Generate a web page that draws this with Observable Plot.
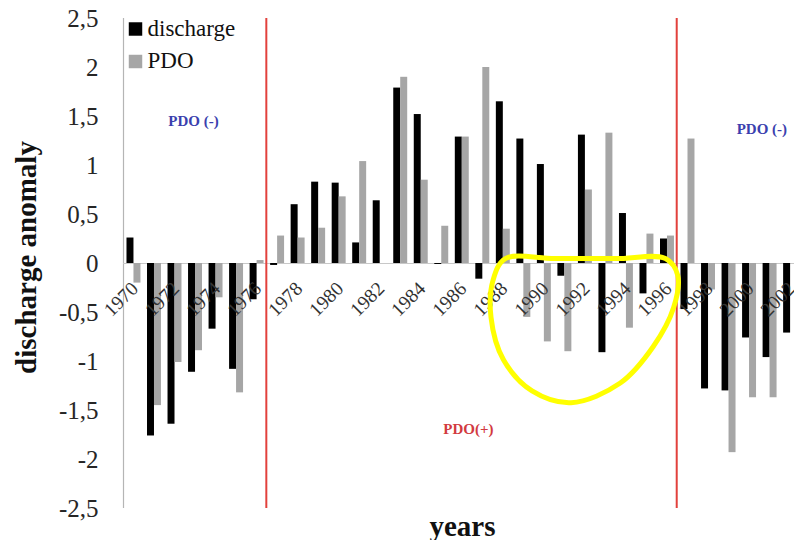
<!DOCTYPE html>
<html>
<head>
<meta charset="utf-8">
<script src="https://cdn.jsdelivr.net/npm/d3@7"></script>
<script src="https://cdn.jsdelivr.net/npm/@observablehq/plot@0.6"></script>
<style>
  html, body { margin: 0; padding: 0; background: #fff; overflow: hidden; }
  #chart svg { display: block; }
  #chart svg text { font-family: "Liberation Serif", "Times New Roman", serif; }
</style>
</head>
<body>
<div id="chart"></div>
<script>
// ---- data ----
const years = d3.range(1970, 2003);
const discharge = [0.26, -1.76, -1.64, -1.11, -0.67, -1.08, -0.37, -0.02, 0.60, 0.83,
  0.82, 0.21, 0.64, 1.79, 1.52, -0.01, 1.29, -0.16, 1.65, 1.27,
  1.01, -0.13, 1.31, -0.91, 0.51, -0.31, 0.25, -0.47, -1.28, -1.30,
  -0.76, -0.96, -0.71];
const pdo = [-0.20, -1.45, -1.01, -0.89, -0.35, -1.32, 0.03, 0.28, 0.26, 0.36,
  0.68, 1.04, 0.00, 1.90, 0.85, 0.38, 1.29, 2.00, 0.35, -0.55,
  -0.80, -0.90, 0.75, 1.33, -0.66, 0.30, 0.28, 1.27, -0.27, -1.93,
  -1.37, -1.37, null];
const labelYears = d3.range(1970, 2003, 2);
const yTicks = [-2.5, -2, -1.5, -1, -0.5, 0, 0.5, 1, 1.5, 2, 2.5];
const xDomain = [1969.49, 2002.19];
const regimeShifts = [1976.45, 1996.45];
const phaseLabels = [
  {year: 1972.9, value: 1.45, text: "PDO (-)", color: "#3b3fae"},
  {year: 2000.6, value: 1.37, text: "PDO (-)", color: "#3b3fae"},
  {year: 1986.3, value: -1.69, text: "PDO(+)", color: "#d23a3f"}
];
const highlight = [
  {year: 1988.1, value: 0.05}, {year: 1990.5, value: 0.05}, {year: 1993.5, value: 0.05},
  {year: 1995.9, value: 0.05}, {year: 1996.5, value: -0.12}, {year: 1996.3, value: -0.45},
  {year: 1995.3, value: -0.85}, {year: 1993.7, value: -1.22}, {year: 1991.3, value: -1.42},
  {year: 1989.4, value: -1.30}, {year: 1988.0, value: -0.98}, {year: 1987.4, value: -0.55},
  {year: 1987.5, value: -0.17}
];

const rows = years.map((y, i) => ({year: y, discharge: discharge[i], pdo: pdo[i]}));
const BW = 0.34;
const font = "'Liberation Serif', 'Times New Roman', serif";

const chart = Plot.plot({
  width: 794,
  height: 540,
  marginLeft: 123,
  marginRight: 0,
  marginTop: 18,
  marginBottom: 32,
  style: `font-family: ${font}; background: #fff; color: #222;`,
  x: {domain: xDomain, axis: null},
  y: {domain: [-2.5, 2.5], axis: null},
  marks: [
    Plot.ruleX([xDomain[0]], {stroke: "#b5b5b5", strokeWidth: 1.2}),
    Plot.ruleY([0], {stroke: "#c8c8c8", strokeWidth: 1}),
    Plot.rectY(rows.filter(d => d.discharge != null), {x1: d => d.year - BW, x2: d => d.year, y: "discharge", fill: "#000", clip: true}),
    Plot.rectY(rows.filter(d => d.pdo != null), {x1: d => d.year, x2: d => d.year + BW, y: "pdo", fill: "#a6a6a6", clip: true}),
    Plot.ruleX(regimeShifts, {stroke: "#e2413c", strokeWidth: 2}),
    Plot.axisY({ticks: yTicks, tickSize: 0, tickPadding: 25, fontSize: 25, fill: "#262626",
      tickFormat: d => String(d).replace(".", ","), label: null}),
    Plot.text(labelYears, {x: d => d, y: 0, text: d => String(d), rotate: -45, textAnchor: "end",
      lineAnchor: "middle", dx: 1, dy: 22, fontSize: 19.5, fill: "#333"}),
    Plot.text(phaseLabels, {x: "year", y: "value", text: "text", fill: "color", fontSize: 15, fontWeight: "bold"}),
    Plot.line(highlight, {x: "year", y: "value", curve: "catmull-rom-closed", stroke: "#ffff00", strokeWidth: 5}),
    // legend
    Plot.dot(["discharge"], {frameAnchor: "top-left", dx: 12, dy: 10.5, symbol: "square", r: 7.6, fill: "#000", stroke: null}),
    Plot.dot(["PDO"], {frameAnchor: "top-left", dx: 12, dy: 43, symbol: "square", r: 7.6, fill: "#a6a6a6", stroke: null}),
    Plot.text(["discharge"], {frameAnchor: "top-left", dx: 24, dy: 10.6, textAnchor: "start", lineAnchor: "middle", fontSize: 23, fill: "#111"}),
    Plot.text(["PDO"], {frameAnchor: "top-left", dx: 24, dy: 42.6, textAnchor: "start", lineAnchor: "middle", fontSize: 23, fill: "#111"}),
    // axis titles
    Plot.text(["discharge anomaly"], {frameAnchor: "left", rotate: -90, textAnchor: "middle", lineAnchor: "middle",
      dx: -97, dy: -6, fontSize: 29, fontWeight: "bold", fill: "#111"}),
    Plot.text(["years"], {frameAnchor: "bottom", textAnchor: "middle", lineAnchor: "middle",
      dx: 3.5, dy: 18, fontSize: 29, fontWeight: "bold", fill: "#111"})
  ]
});
document.getElementById("chart").appendChild(chart);
</script>
</body>
</html>
